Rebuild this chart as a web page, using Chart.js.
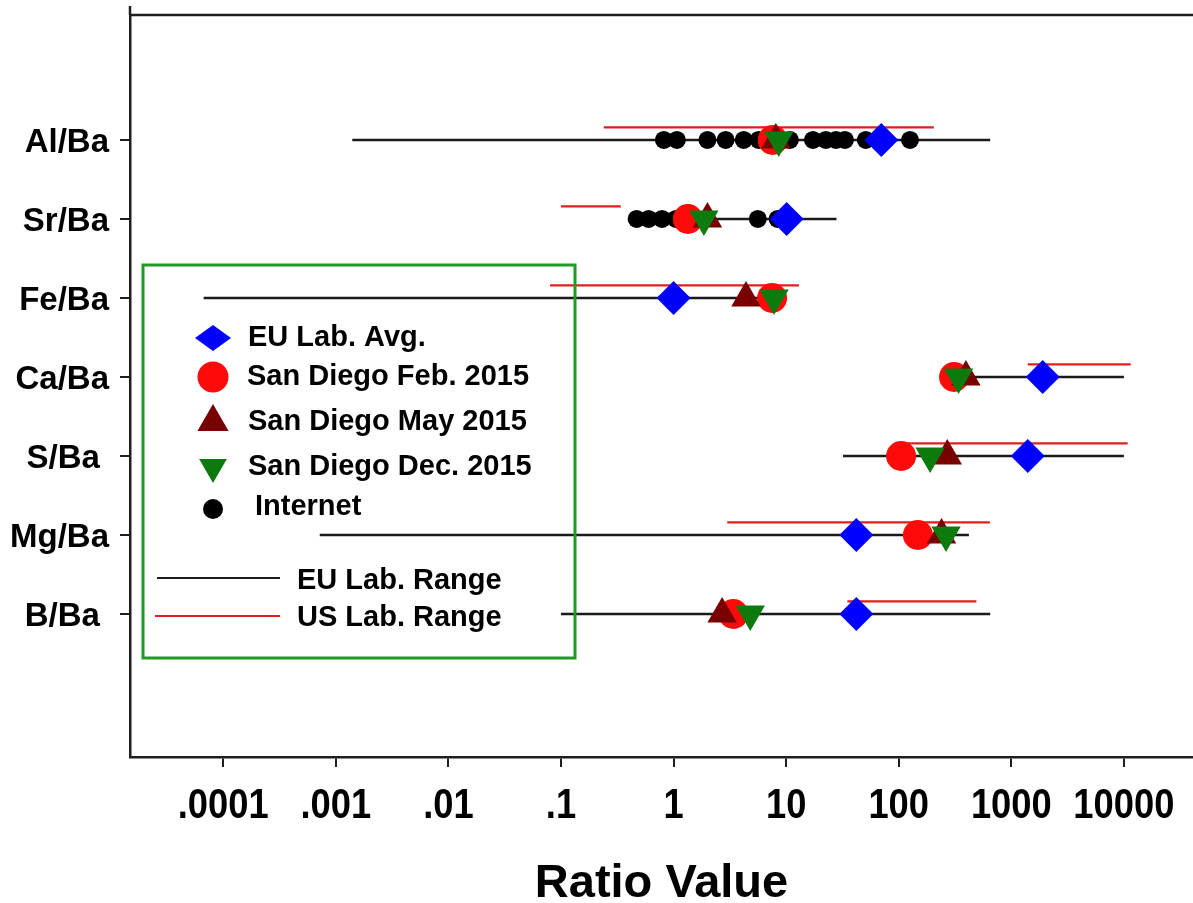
<!DOCTYPE html>
<html>
<head>
<meta charset="utf-8">
<title>Ratio Value</title>
<script src="https://cdn.jsdelivr.net/npm/chart.js@4.4.1/dist/chart.umd.min.js"></script>
<style>
  html, body { margin: 0; padding: 0; background: #fff; overflow: hidden; }
  canvas { display: block; }
</style>
</head>
<body>
<canvas id="chartRatio" width="1193" height="903"></canvas>
<script>
// element ratios, top to bottom
const RATIOS = ['Al/Ba', 'Sr/Ba', 'Fe/Ba', 'Ca/Ba', 'S/Ba ', 'Mg/Ba', 'B/Ba '];

// point values
const EU_AVG = [70, 10.1, 1.0, 1900, 1400, 42, 42];
const SD_FEB = [7.6, 1.34, 7.5, 310, 105, 148, 3.4];
const SD_MAY = [8.1, 2.0, 4.4, 395, 270, 240, 2.7];
const SD_DEC = [8.6, 1.86, 7.8, 340, 190, 263, 4.8];

// internet values (only Al/Ba and Sr/Ba)
const INTERNET_AL = [0.82, 1.07, 2.0, 2.9, 4.2, 5.7, 10.8, 17.3, 22.5, 27.7, 33.3, 51, 65, 126];
const INTERNET_SR = [0.47, 0.6, 0.79, 1.05, 5.6, 8.4];

// lab ranges
const EU_MIN = [0.0014, 0.47, 0.000067, 300, 32, 0.00072, 0.1];
const EU_MAX = [650, 28, 6, 10000, 10000, 420, 650];
const US_MIN = [0.24, 0.1, 0.08, 1400, 110, 3.0, 35];
const US_MAX = [205, 0.34, 13, 11500, 10800, 645, 490];

const X_TICKS = [1e-4, 1e-3, 1e-2, 1e-1, 1, 10, 100, 1000, 10000];
const X_TICK_LABELS = ['.0001', '.001', '.01', '.1', '1', '10', '100', '1000', '10000'];

const COLORS = {
  blue: '#0000ff',
  red: '#ff0a0a',
  darkRed: '#780000',
  green: '#0c7a0c',
  black: '#000000',
  axis: '#1e1e1e',
  rangeRed: '#e01e1e',
  rangeBlack: '#1a1a1a',
  legendBox: '#1f9a25'
};

const FONT_BOLD = "'Liberation Sans', Arial, sans-serif";

const yOf = i => 7 - i;
const US_OFFSET = 0.16;

function markerSet(label, values, color, style, radius, rotation, order) {
  return {
    label,
    data: values.map((v, i) => ({ x: v, y: yOf(i) })),
    backgroundColor: color,
    borderWidth: 0,
    pointStyle: style,
    pointRadius: radius,
    pointRotation: rotation,
    order
  };
}

function rangeSet(lo, hi, i, color, width, offset, order) {
  return {
    data: [{ x: lo, y: yOf(i) + offset }, { x: hi, y: yOf(i) + offset }],
    showLine: true,
    borderColor: color,
    borderWidth: width,
    pointRadius: 0,
    order
  };
}

const datasets = [
  markerSet('San Diego Dec. 2015', SD_DEC, COLORS.green, 'triangle', 17, 180, 0),
  markerSet('San Diego May 2015', SD_MAY, COLORS.darkRed, 'triangle', 17, 0, 1),
  markerSet('San Diego Feb. 2015', SD_FEB, COLORS.red, 'circle', 15, 0, 2),
  markerSet('EU Lab. Avg.', EU_AVG, COLORS.blue, 'rectRot', 17, 0, 3),
  {
    label: 'Internet',
    data: INTERNET_AL.map(v => ({ x: v, y: yOf(0) })).concat(INTERNET_SR.map(v => ({ x: v, y: yOf(1) }))),
    backgroundColor: COLORS.black,
    borderWidth: 0,
    pointRadius: 9,
    order: 4
  }
];
RATIOS.forEach((r, i) => {
  datasets.push(rangeSet(US_MIN[i], US_MAX[i], i, COLORS.rangeRed, 2.2, US_OFFSET, 5));
  datasets.push(rangeSet(EU_MIN[i], EU_MAX[i], i, COLORS.rangeBlack, 2.6, 0, 6));
});

// narrow x tick labels (no condensed font installed, so squeeze Liberation Sans)
const narrowTickLabels = {
  id: 'narrowTickLabels',
  afterDraw(chart) {
    const ctx = chart.ctx;
    const xs = chart.scales.x;
    ctx.save();
    ctx.font = 'bold 43px ' + FONT_BOLD;
    ctx.fillStyle = '#000';
    ctx.textAlign = 'center';
    ctx.textBaseline = 'alphabetic';
    X_TICKS.forEach((v, i) => {
      const px = xs.getPixelForValue(v);
      ctx.save();
      ctx.translate(px, 818);
      ctx.scale(0.845, 1);
      ctx.fillText(X_TICK_LABELS[i], 0, 0);
      ctx.restore();
    });
    ctx.restore();
  }
};

// legend box + top frame line
const frameAndLegend = {
  id: 'frameAndLegend',
  afterDatasetsDraw(chart) {
    const ctx = chart.ctx;
    const area = chart.chartArea;
    ctx.save();

    // top frame line and the little overshoot of the y axis
    ctx.strokeStyle = COLORS.axis;
    ctx.lineWidth = 2.5;
    ctx.beginPath();
    ctx.moveTo(area.left - 1, area.top);
    ctx.lineTo(area.right, area.top);
    ctx.moveTo(area.left, area.top);
    ctx.lineTo(area.left, 6);
    ctx.stroke();

    // legend frame
    ctx.strokeStyle = COLORS.legendBox;
    ctx.lineWidth = 3;
    ctx.strokeRect(143, 265, 432, 393);

    const mx = 213;
    const marks = [
      { y: 338, color: COLORS.blue, style: 'rectRot', r: 13, w: 36, rot: 0, text: 'EU Lab. Avg.', tx: 248 },
      { y: 377, color: COLORS.red, style: 'circle', r: 15.5, rot: 0, text: 'San Diego Feb. 2015', tx: 247 },
      { y: 422, color: COLORS.darkRed, style: 'triangle', r: 18, rot: 0, text: 'San Diego May 2015', tx: 248 },
      { y: 467, color: COLORS.green, style: 'triangle', r: 16, rot: 180, text: 'San Diego Dec. 2015', tx: 248 },
      { y: 509, color: COLORS.black, style: 'circle', r: 10, rot: 0, text: 'Internet', tx: 255 }
    ];
    ctx.font = 'bold 29px ' + FONT_BOLD;
    ctx.textBaseline = 'middle';
    ctx.textAlign = 'left';
    marks.forEach(m => {
      ctx.fillStyle = m.color;
      Chart.helpers.drawPointLegend(ctx, { pointStyle: m.style, radius: m.r, rotation: m.rot, borderWidth: 0 }, mx, m.y, m.w);
      ctx.fillStyle = '#000';
      ctx.fillText(m.text, m.tx, m.y + (m.text === 'Internet' ? -2 : 0));
    });

    // range entries
    const ranges = [
      { y: 578, color: COLORS.rangeBlack, x0: 157, text: 'EU Lab. Range', ty: 581 },
      { y: 616, color: COLORS.rangeRed, x0: 155, text: 'US Lab. Range', ty: 618 }
    ];
    ranges.forEach(l => {
      ctx.strokeStyle = l.color;
      ctx.lineWidth = 2.2;
      ctx.beginPath();
      ctx.moveTo(l.x0, l.y);
      ctx.lineTo(280, l.y);
      ctx.stroke();
      ctx.fillStyle = '#000';
      ctx.fillText(l.text, 297, l.ty);
    });

    ctx.restore();
  }
};

const ctx = document.getElementById('chartRatio');
new Chart(ctx, {
  type: 'scatter',
  data: { datasets },
  options: {
    responsive: false,
    animation: false,
    events: [],
    layout: { autoPadding: false, padding: { top: 15, left: 0, right: 0, bottom: 0 } },
    plugins: { legend: { display: false }, tooltip: { enabled: false } },
    scales: {
      x: {
        type: 'logarithmic',
        position: 'bottom',
        min: 1.486e-5,
        max: 41100,
        afterBuildTicks: s => { s.ticks = X_TICKS.map(v => ({ value: v })); },
        afterFit: s => { s.height = 146; s.paddingLeft = 0; s.paddingRight = 0; },
        ticks: { display: false },
        grid: { drawOnChartArea: false, drawTicks: true, tickLength: 10, color: COLORS.axis, lineWidth: 2 },
        border: { color: COLORS.axis, width: 2.5 },
        title: {
          display: true,
          text: 'Ratio Value',
          color: '#000',
          padding: 0,
          font: { family: FONT_BOLD, size: 47, weight: 'bold', lineHeight: '38px' }
        }
      },
      y: {
        type: 'linear',
        min: -0.81,
        max: 8.582,
        afterBuildTicks: s => { s.ticks = RATIOS.map((r, i) => ({ value: i + 1 })); },
        afterFit: s => { s.width = 130; s.paddingTop = 0; s.paddingBottom = 0; },
        ticks: {
          color: '#000',
          padding: 11,
          labelOffset: 3,
          font: { family: FONT_BOLD, size: 33, weight: 'bold' },
          callback: v => RATIOS[7 - v]
        },
        grid: { drawOnChartArea: false, drawTicks: true, tickLength: 10, color: COLORS.axis, lineWidth: 2 },
        border: { color: COLORS.axis, width: 2.5 }
      }
    }
  },
  plugins: [frameAndLegend, narrowTickLabels]
});
</script>
</body>
</html>
